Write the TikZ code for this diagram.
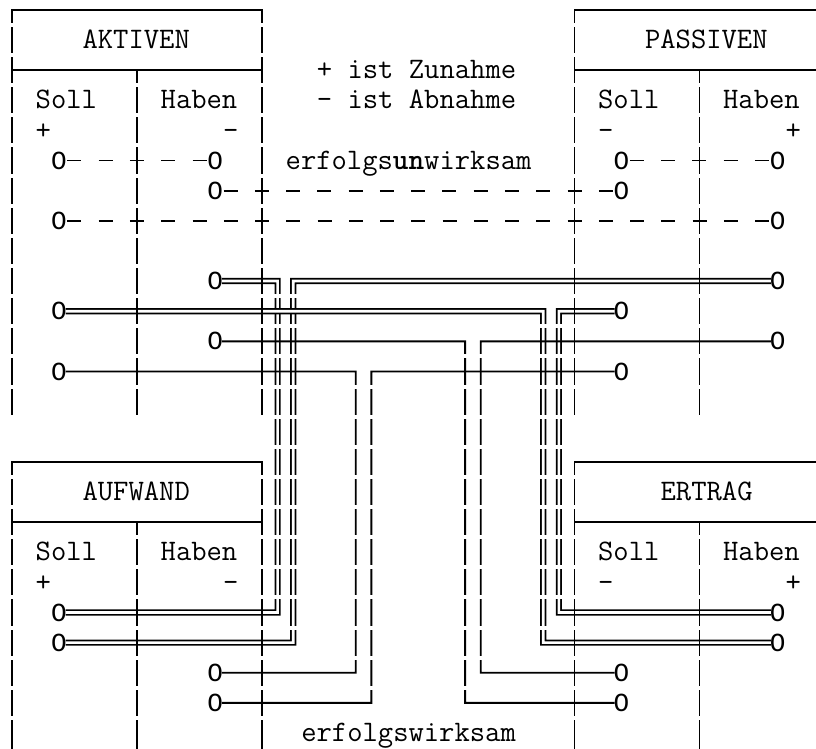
\documentclass[tikz,border=0pt]{standalone}
\usepackage{fontspec}
\newfontfamily\knotfont{Liberation Mono}
\usepackage{tikz}
\usetikzlibrary{calc}
\tikzset{>=latex}
\tikzset{font=\ttfamily\fontsize{22.32pt}{26pt}\selectfont}
\tikzset{
  box/.style={line width=1.2pt},
  endpt/.style={font=\knotfont\fontsize{19.53pt}{23pt}\selectfont,
    inner sep=0pt, outer sep=-0.8pt, text height=12.9pt, text depth=0pt},
  txt/.style={anchor=west, inner sep=0pt, text height=13pt, text depth=0pt},
  dline/.style={double, double distance=2pt, line width=1.3pt},
  sline/.style={line width=1.4pt},
  dashline/.style={line width=1.4pt, dash pattern=on 10.5pt off 12.94pt, dash phase=22.03pt}
}

\begin{document}
\begin{tikzpicture}[x=11.71875pt, y=-22.6pt]
  \useasboundingbox (-0.768,-0.328) rectangle (51.46,24.53);
  % endpoints of the bookings
  \foreach \n/\c/\r in {akS5/3/5, akH5/13/5, paS5/39/5, paH5/49/5,
      akH6/13/6, paS6/39/6, akS7/3/7, paH7/49/7,
      akH9/13/9, paH9/49/9, akS10/3/10, paS10/39/10,
      akH11/13/11, paH11/49/11, akS12/3/12, paS12/39/12,
      auS20/3/20, erH20/49/20, auS21/3/21, erH21/49/21,
      auH22/13/22, erS22/39/22, auH23/13/23, erS23/39/23}
    \node[endpt] (\n) at (\c,\r) {O};
  % double lines
  \draw[dline] (akH9) -- (17,9) |- (auS20);
  \draw[dline] (paH9) -- (18,9) |- (auS21);
  \draw[dline] (akS10) -- (34,10) |- (erH21);
  \draw[dline] (paS10) -- (35,10) |- (erH20);
  % the four accounts
  \foreach \t/\b in {0/13.5, 15/24.53} {
    \draw[box] (0,\b) -- (0,\t) -- (16,\t) -- (16,\b);
    \draw[box] (0,\t+2) -- (16,\t+2) (8,\t+2) -- (8,\b);
    \draw[box] (36,\b) -- (36,\t) -- (51.46,\t);
    \draw[box] (36,\t+2) -- (51.46,\t+2) (44,\t+2) -- (44,\b);
  }
  % single lines
  \draw[sline] (akH11) -- (29,11) |- (erS23);
  \draw[sline] (paH11) -- (30,11) |- (erS22);
  \draw[sline] (akS12) -- (22,12) |- (auH22);
  \draw[sline] (paS12) -- (23,12) |- (auH23);
  % dashed lines
  \draw[dashline] (akS5) -- (akH5);
  \draw[dashline] (paS5) -- (paH5);
  \draw[dashline] (akH6) -- (paS6);
  \draw[dashline] (akS7) -- (paH7);
  % gaps between the text rows
  \foreach \r in {0,...,23}
    \fill[white] (-0.8,\r+0.434) rectangle (51.5,\r+0.566);
  % texts
  \node[txt] (aktiven) at (4.5,1) {AKTIVEN};
  \node[txt] (passiven) at (40.5,1) {PASSIVEN};
  \node[txt] (aufwand) at (4.5,16) {AUFWAND};
  \node[txt] (ertrag) at (41.5,16) {ERTRAG};
  \foreach \c/\r [count=\i] in {1.5/3, 37.5/3, 1.5/18, 37.5/18} {
    \node[txt] (soll\i) at (\c,\r) {Soll};
    \node[txt] (haben\i) at (\c+8,\r) {Haben};
  }
  \foreach \c/\r/\s [count=\i] in {1.5/4/+, 13.5/4/-, 37.5/4/-, 49.5/4/+,
      1.5/19/+, 13.5/19/-, 37.5/19/-, 49.5/19/+}
    \node[txt] (sign\i) at (\c,\r) {\s};
  \node[txt] (zunahme) at (19.5,2) {+ ist Zunahme};
  \node[txt] (abnahme) at (19.5,3) {- ist Abnahme};
  \node[txt] (unwirksam) at (17.5,5) {erfolgs{\bfseries un}wirksam};
  \node[txt] (wirksam) at (18.5,24) {erfolgswirksam};
\end{tikzpicture}
\end{document}
